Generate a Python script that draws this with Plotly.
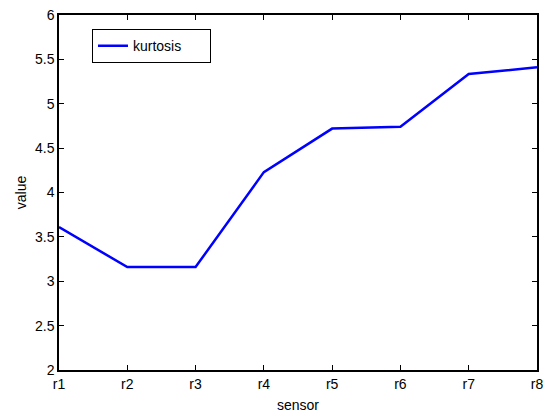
import plotly.graph_objects as go

sensors = ["r1", "r2", "r3", "r4", "r5", "r6", "r7", "r8"]
kurtosis = [3.61, 3.16, 3.16, 4.23, 4.72, 4.74, 5.335, 5.41]
y_ticks = [2, 2.5, 3, 3.5, 4, 4.5, 5, 5.5, 6]

FONT = "Liberation Sans, Arial"

fig = go.Figure()
fig.add_trace(go.Scatter(x=sensors, y=kurtosis, mode="lines",
                         name="kurtosis&nbsp;&nbsp;&nbsp;&nbsp;&nbsp;&nbsp;",
                         line=dict(color="#0000ff", width=2.5)))

axis_common = dict(showgrid=False, zeroline=False, showline=True, linecolor="black",
                   linewidth=1.5, mirror="ticks", ticks="inside", ticklen=5,
                   tickcolor="black", automargin=False,
                   tickfont=dict(family=FONT, size=14, color="black"))

fig.update_xaxes(type="category", range=[0, 7], title=dict(text="sensor", standoff=10,
                 font=dict(family=FONT, size=14, color="black")), **axis_common)
fig.update_yaxes(range=[2, 6], tickvals=y_ticks, ticktext=[str(v) for v in y_ticks],
                 title=dict(text="value", standoff=5,
                 font=dict(family=FONT, size=14, color="black")), **axis_common)

fig.update_layout(
    width=546, height=414,
    margin=dict(l=59, r=9, t=15, b=44, autoexpand=False),
    plot_bgcolor="white", paper_bgcolor="white",
    showlegend=True,
    legend=dict(x=0.069, y=0.96, xanchor="left", yanchor="top",
                bordercolor="black", borderwidth=1, bgcolor="white",
                tracegroupgap=0,
                font=dict(family=FONT, size=14, color="black")),
)

fig.write_html("out.html", config={"displayModeBar": False},
               post_script="document.body.style.margin='0';document.body.style.overflow='hidden';")
